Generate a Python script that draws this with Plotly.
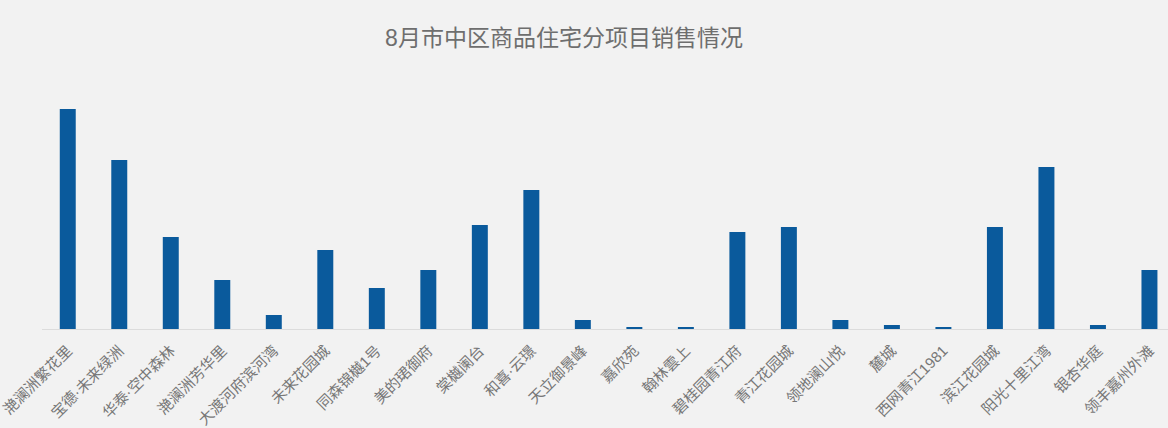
import plotly.graph_objects as go

projects = ["滟澜洲繁花里", "宝德·未来绿洲", "华泰·空中森林", "滟澜洲芳华里", "大渡河府滨河湾",
            "未来花园城", "同森锦樾1号", "美的珺御府", "棠樾阑台", "和喜·云璟", "天立御景峰",
            "嘉欣苑", "翰林雲上", "碧桂园青江府", "青江花园城", "领地澜山悦", "麓城",
            "西网青江1981", "滨江花园城", "阳光十里江湾", "银杏华庭", "领丰嘉州外滩"]
sales = [220, 169, 92, 49, 14, 79, 41, 59, 104, 139, 9, 2, 2, 97, 102, 9, 4, 2, 102, 162, 4, 59]

FONT = "Liberation Sans, Noto Sans CJK SC"

fig = go.Figure(go.Bar(x=projects, y=sales, marker_color="#0a5a9c", width=0.31,
                       marker_line_width=0))

fig.update_layout(
    width=1168, height=428,
    margin=dict(l=40, r=0, t=79, b=99),
    paper_bgcolor="#f2f2f2", plot_bgcolor="rgba(0,0,0,0)",
    title=dict(text="8月市中区商品住宅分项目销售情况", x=564/1168, xref="container", xanchor="center",
               y=1 - 38/428, yref="container", yanchor="middle",
               font=dict(family=FONT, size=23, color="#6e6e6e")),
    showlegend=False,
    font=dict(family=FONT),
)
fig.update_xaxes(range=[-0.5, 21.36], tickangle=-45, showline=True, linecolor="#dcdcdc",
                 linewidth=1, showgrid=False, ticks="", ticklabelstandoff=6,
                 tickfont=dict(family=FONT, size=15, color="#777777"))
fig.update_yaxes(range=[0, 250], visible=False, showgrid=False)

fig.write_html("out.html")
